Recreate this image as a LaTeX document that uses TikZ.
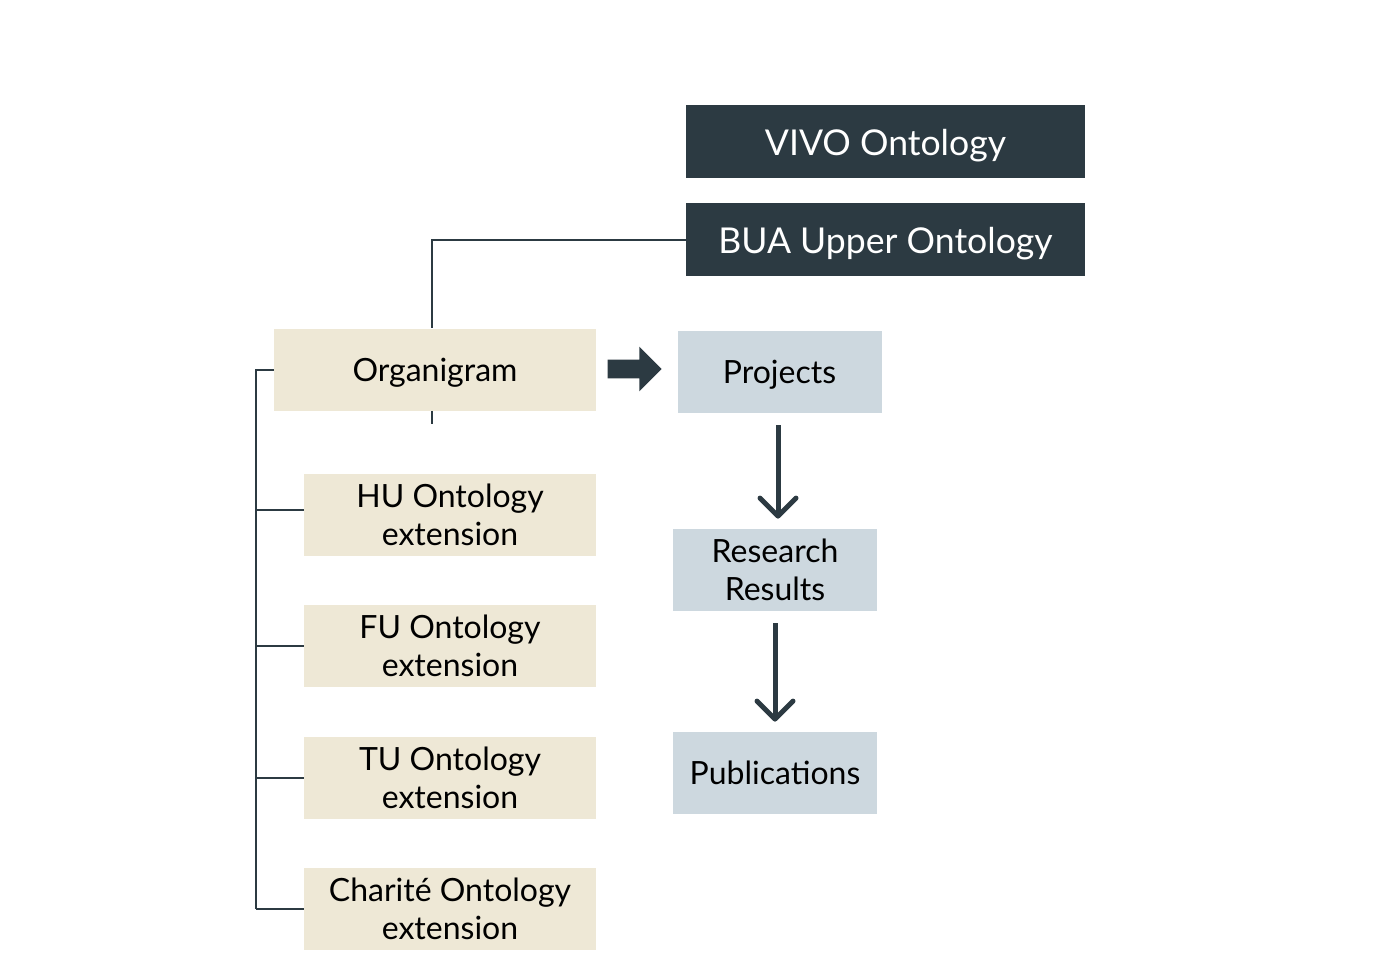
\documentclass[tikz,border=0pt]{standalone}
\usepackage{fontspec}
\setmainfont{Lato}
\usetikzlibrary{arrows.meta,shapes.arrows}

\definecolor{slate}{HTML}{2C3A42}
\definecolor{sand}{HTML}{EEE8D6}
\definecolor{mist}{HTML}{CDD8DF}

\begin{document}
\begin{tikzpicture}[x=0.5pt,y=-0.5pt,
	upper/.style={fill=slate, text=white, minimum width=199.5pt, minimum height=36.5pt, font=\fontsize{17.8}{21}\selectfont, text height=18pt, text depth=3.6pt},
	org/.style={fill=sand, text=black, minimum height=41pt, align=center, font=\fontsize{16}{19}\selectfont},
	ext/.style={org, minimum width=146pt},
	work/.style={fill=mist, text=black, minimum width=102pt, minimum height=41pt, align=center, font=\fontsize{16}{19}\selectfont},
	oneline/.style={text height=15pt, text depth=3.2pt},
	link/.style={draw=slate, line width=1pt},
	flow/.style={draw=slate, line width=2.5pt, -{Straight Barb[length=9pt,width=18pt,round]}, shorten <=6pt, shorten >=5pt}]
	\useasboundingbox (0,0) rectangle (1394,970);
	\node (vivo) at (885.5,141.5) [upper] {VIVO Ontology};
	\node (bua) at (885.5,239.5) [upper] {BUA Upper Ontology};
	\node (organi) at (435,369.5) [org, oneline, minimum width=161pt] {Organigram};
	\node (hu) at (450,515) [ext] {HU Ontology\\extension};
	\node (fu) at (450,646) [ext] {FU Ontology\\extension};
	\node (tu) at (450,777.5) [ext] {TU Ontology\\extension};
	\node (charite) at (450,909) [ext] {Charité Ontology\\extension};
	\node (projects) at (779.5,372) [work, oneline] {Projects};
	\node (results) at (775,570) [work] {Research\\Results};
	\node (pubs) at (775,773) [work, oneline] {Publications};
	\node (fat) at (630,369) [single arrow, fill=slate, minimum height=27pt, minimum width=22pt, inner sep=4.5pt, single arrow head extend=6.5pt] {};
	\coordinate (spine) at (256,0);
	\coordinate (tick) at (432,424);

	\draw[link] (bua.west) -| (organi.north -| tick);
	\draw[link] (organi.south -| tick) -- (tick);
	\draw[link] (organi.west) -- (organi.west -| spine) -- (spine |- charite.west);
	\draw[link] ([yshift=2.5pt]hu.west) -- ([yshift=2.5pt]hu.west -| spine);
	\foreach \n in {fu,tu,charite}
		\draw[link] (\n.west) -- (\n.west -| spine);

	\draw[flow] (projects.south -| 778,0) -- (results.north -| 778,0);
	\draw[flow] (results.south) -- (pubs.north);
\end{tikzpicture}
\end{document}
